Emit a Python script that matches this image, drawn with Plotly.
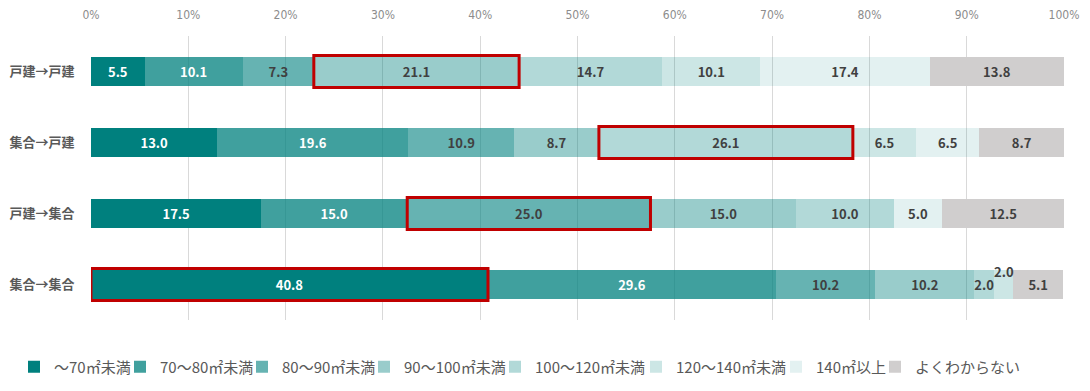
import plotly.graph_objects as go

categories = ["戸建→戸建", "集合→戸建", "戸建→集合", "集合→集合"]
series_names = ["～70㎡未満", "70～80㎡未満", "80～90㎡未満", "90～100㎡未満",
                "100～120㎡未満", "120～140㎡未満", "140㎡以上", "よくわからない"]

s_lt70 = [5.5, 13.0, 17.5, 40.8]
s_70_80 = [10.1, 19.6, 15.0, 29.6]
s_80_90 = [7.3, 10.9, 25.0, 10.2]
s_90_100 = [21.1, 8.7, 15.0, 10.2]
s_100_120 = [14.7, 26.1, 10.0, 2.0]
s_120_140 = [10.1, 6.5, 0.0, 2.0]
s_140up = [17.4, 6.5, 5.0, 0.0]
s_unknown = [13.8, 8.7, 12.5, 5.1]

series_values = [s_lt70, s_70_80, s_80_90, s_90_100, s_100_120, s_120_140, s_140up, s_unknown]
tick_vals = [0, 10, 20, 30, 40, 50, 60, 70, 80, 90, 100]
tick_text = ["0%", "10%", "20%", "30%", "40%", "50%", "60%", "70%", "80%", "90%", "100%"]

colors = ["rgba(0,128,126,1)", "rgba(0,128,126,0.75)", "rgba(0,128,126,0.6)",
          "rgba(0,128,126,0.4)", "rgba(0,128,126,0.3)", "rgba(0,128,126,0.2)",
          "rgba(0,128,126,0.11)", "rgb(208,206,206)"]
text_colors = ["white", "white", "#404040", "#404040", "#404040", "#404040", "#404040", "#404040"]

# highlighted (row index, series index)
highlights = [(0, 3), (1, 4), (2, 2), (3, 0)]
# label drawn above the bar instead of inside
above_labels = [(3, 5)]

# legend entry text start positions (px in the target window)
legend_text_x = [46, 152, 274, 396, 527, 668, 808, 907]

FONT = "Noto Sans CJK JP, Noto Sans, sans-serif"
PAGE_OFF = 8                      # default body margin of the html page
W, H = 1090 - PAGE_OFF, 391 - PAGE_OFF

fig = go.Figure()
legend_layout = {}
for si, (name, vals) in enumerate(zip(series_names, series_values)):
    texts = []
    for ri, v in enumerate(vals):
        if v <= 0 or (ri, si) in above_labels:
            texts.append("")
        else:
            texts.append(f"{v:.1f}")
    lname = "legend" if si == 0 else f"legend{si + 1}"
    fig.add_trace(go.Bar(
        name=name, y=categories, x=vals, orientation="h",
        marker=dict(color=colors[si], line=dict(width=0)),
        text=texts, textposition="inside", insidetextanchor="middle", textangle=0,
        textfont=dict(color=text_colors[si], size=13, family=FONT, weight="bold"),
        hoverinfo="skip", legend=lname,
    ))
    legend_layout[lname] = dict(
        xref="container", yref="container",
        x=(legend_text_x[si] - PAGE_OFF - 32) / W, xanchor="left",
        y=1 - (367 - PAGE_OFF) / H, yanchor="middle",
        bgcolor="rgba(0,0,0,0)", borderwidth=0,
        font=dict(size=15, color="#595959", family=FONT),
        itemwidth=30,
    )

def cum_start(ri, si):
    return sum(series_values[k][ri] for k in range(si))

for ri, si in highlights:
    x0 = cum_start(ri, si)
    x1 = x0 + series_values[si][ri]
    fig.add_shape(type="rect", xref="x", yref="y", x0=x0, x1=x1,
                  y0=ri - 0.225, y1=ri + 0.225,
                  line=dict(color="#C00000", width=3), fillcolor="rgba(0,0,0,0)")

for ri, si in above_labels:
    x0 = cum_start(ri, si)
    v = series_values[si][ri]
    fig.add_annotation(x=x0 + v / 2, y=ri, xref="x", yref="y", text=f"{v:.1f}",
                       showarrow=False, yshift=13, yanchor="middle",
                       font=dict(color="#404040", size=13, family=FONT, weight="bold"))

fig.update_layout(
    barmode="stack", bargap=0.6,
    width=W, height=H,
    margin=dict(l=91 - PAGE_OFF, r=26, t=36 - PAGE_OFF, b=71, autoexpand=False),
    paper_bgcolor="white", plot_bgcolor="white",
    font=dict(family=FONT, color="#595959"),
    uniformtext=dict(minsize=13, mode="show"),
    showlegend=True,
    xaxis=dict(range=[0, 100], side="top", tickmode="array", tickvals=tick_vals,
               ticktext=tick_text, showgrid=True, gridcolor="#d9d9d9", gridwidth=1,
               zeroline=False, showline=False, ticks="outside", ticklen=11,
               tickcolor="rgba(0,0,0,0)", automargin=False,
               tickfont=dict(size=12, color="#8c8c8c",
                             family="Liberation Sans Narrow, DejaVu Sans Condensed, sans-serif")),
    yaxis=dict(type="category", autorange="reversed", showgrid=False, zeroline=False,
               showline=False, ticks="outside", ticklen=13, tickcolor="rgba(0,0,0,0)",
               automargin=False,
               tickfont=dict(size=13, color="#595959", family=FONT, weight="bold")),
    **legend_layout,
)

fig.write_html("out.html")
